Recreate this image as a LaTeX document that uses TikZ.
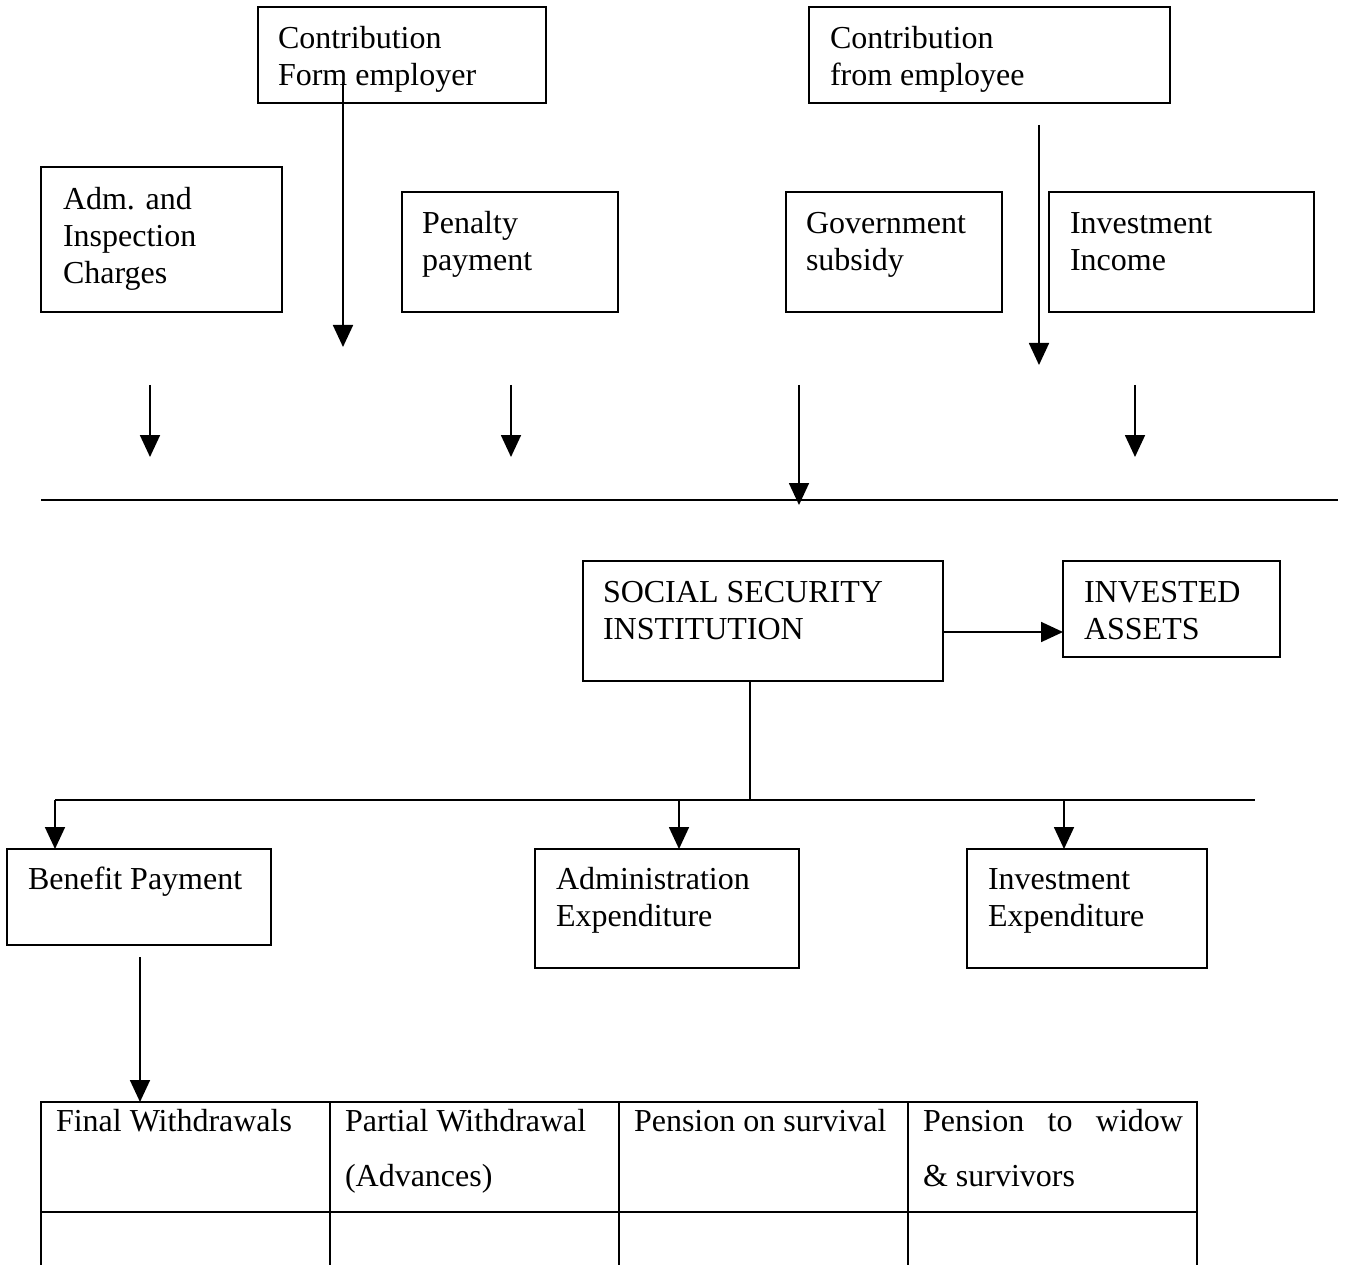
\documentclass[tikz,border=0pt]{standalone}
\usepackage{fontspec}
\setmainfont{Liberation Serif}
\usetikzlibrary{arrows.meta}
\newcommand\mlines[1]{\begin{tabular}[t]{@{}l@{}}#1\end{tabular}}
\begin{document}
\begin{tikzpicture}[x=1pt,y=-1pt,
  box/.style={draw, line width=1.8pt, inner sep=0pt, outer sep=0pt, anchor=north west},
  txt/.style={anchor=base west, inner sep=0pt, outer sep=0pt, yshift=-1.5pt, font=\fontsize{32}{36.8}\selectfont},
  arr/.style={line width=1.8pt, -{Triangle[length=22pt,width=20pt]}},
  ln/.style={line width=1.8pt}]
\useasboundingbox (0,0) rectangle (1350,1265);

% top boxes
\node[box, minimum width=288pt, minimum height=96pt] (ce) at (258,7) {};
\node[txt] (cet) at (278,47) {\mlines{Contribution\\Form employer}};
\node[box, minimum width=361pt, minimum height=96pt] (cee) at (809,7) {};
\node[txt] (ceet) at (830,47) {\mlines{Contribution\\from employee}};

\node[box, minimum width=241pt, minimum height=145pt] (adm) at (41,167) {};
\node[txt] (admt) at (63,208) {\mlines{Adm. and\\Inspection\\Charges}};
\node[box, minimum width=216pt, minimum height=120pt] (pen) at (402,192) {};
\node[txt] (pent) at (422,232) {\mlines{Penalty\\payment}};
\node[box, minimum width=216pt, minimum height=120pt] (gov) at (786,192) {};
\node[txt] (govt) at (806,232) {\mlines{Government\\subsidy}};
\node[box, minimum width=265pt, minimum height=120pt] (inv) at (1049,192) {};
\node[txt] (invt) at (1070,232) {\mlines{Investment\\Income}};

% arrows in top part
\coordinate (a1s) at (343,82);   \coordinate (a1e) at (343,347);
\coordinate (a2s) at (1039,125); \coordinate (a2e) at (1039,365);
\coordinate (s1) at (150,385);  \coordinate (e1) at (150,457);
\coordinate (s2) at (511,385);  \coordinate (e2) at (511,457);
\coordinate (s3) at (799,385);  \coordinate (e3) at (799,505);
\coordinate (s4) at (1135,385); \coordinate (e4) at (1135,457);
\draw[arr] (a1s) -- (a1e);
\draw[arr] (a2s) -- (a2e);
\draw[arr] (s1) -- (e1);
\draw[arr] (s2) -- (e2);
\draw[arr] (s3) -- (e3);
\draw[arr] (s4) -- (e4);
\coordinate (h1) at (41,500); \coordinate (h2) at (1338,500);
\draw[ln] (h1) -- (h2);

% institution
\node[box, minimum width=360pt, minimum height=120pt] (ssi) at (583,561) {};
\node[txt] (ssit) at (603,601) {\mlines{SOCIAL SECURITY\\INSTITUTION}};
\node[box, minimum width=217pt, minimum height=96pt] (ia) at (1063,561) {};
\node[txt] (iat) at (1084,601) {\mlines{INVESTED\\ASSETS}};
\draw[arr] ([yshift=-11pt]ssi.east) -- ([yshift=-11pt]ssi.east -| ia.west);

% branches
\node[box, minimum width=264pt, minimum height=96pt] (ben) at (7,849) {};
\node[txt] (bent) at (28,888) {Benefit Payment};
\node[box, minimum width=264pt, minimum height=119pt] (adx) at (535,849) {};
\node[txt] (adxt) at (556,888) {\mlines{Administration\\Expenditure}};
\node[box, minimum width=240pt, minimum height=119pt] (ivx) at (967,849) {};
\node[txt] (ivxt) at (988,888) {\mlines{Investment\\Expenditure}};

\coordinate (j) at (750,800);
\coordinate (b1) at (55,800);
\coordinate (b2) at (679,800);
\coordinate (b3) at (1064,800);
\coordinate (bend) at (1255,800);
\draw[ln] (ssi.south -| j) -- (j);
\draw[ln] (b1) -- (bend);
\draw[arr] (b1) -- (b1 |- ben.north);
\draw[arr] (b2) -- (b2 |- adx.north);
\draw[arr] (b3) -- (b3 |- ivx.north);

% table
\node[box, minimum width=289pt, minimum height=110pt] (c11) at (41,1102) {};
\node[box, minimum width=289pt, minimum height=110pt] (c12) at (330,1102) {};
\node[box, minimum width=289pt, minimum height=110pt] (c13) at (619,1102) {};
\node[box, minimum width=289pt, minimum height=110pt] (c14) at (908,1102) {};
\node[box, minimum width=289pt, minimum height=62pt] (c21) at (41,1212) {};
\node[box, minimum width=289pt, minimum height=62pt] (c22) at (330,1212) {};
\node[box, minimum width=289pt, minimum height=62pt] (c23) at (619,1212) {};
\node[box, minimum width=289pt, minimum height=62pt] (c24) at (908,1212) {};
\node[txt] (t1) at (56,1130) {Final Withdrawals};
\node[txt] (t2) at (345,1130) {\mlines{Partial Withdrawal\\[18.2pt](Advances)}};
\node[txt] (t3) at (634,1130) {Pension on survival};
\node[txt] (t4) at (923,1130) {\mlines{\hbox to 260pt{Pension\hfill to\hfill widow}\\[18.2pt]\&~survivors}};

\coordinate (bp) at (140,957);
\draw[arr] (bp) -- (bp |- c11.north);
\end{tikzpicture}
\end{document}
